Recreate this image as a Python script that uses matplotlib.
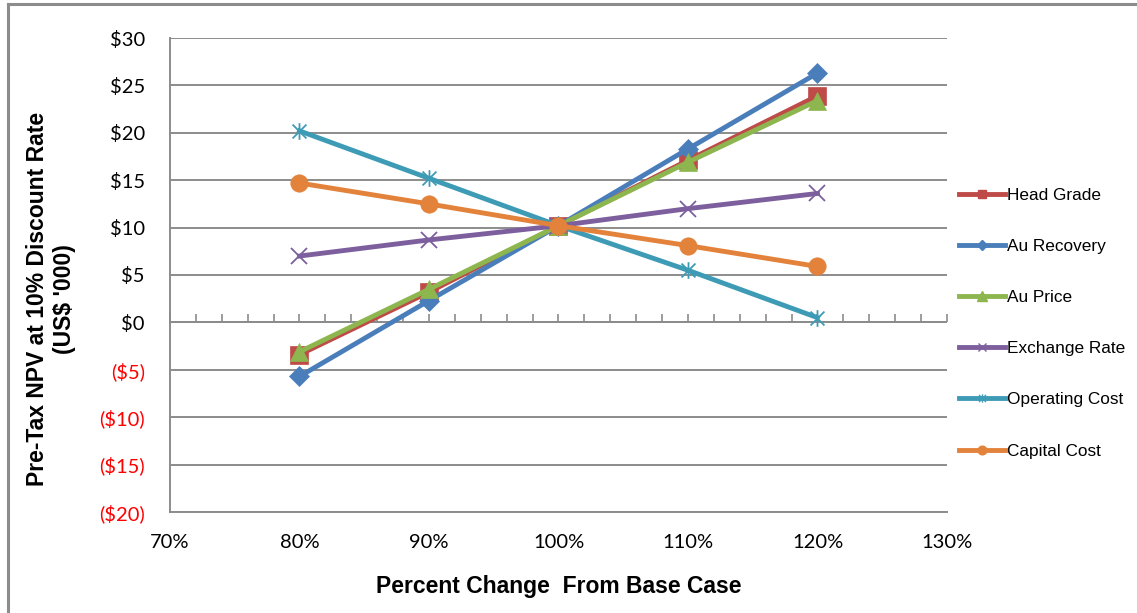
import matplotlib.pyplot as plt
from matplotlib.lines import Line2D
from matplotlib.path import Path
from matplotlib.ticker import MultipleLocator, FuncFormatter

# Percent change from base case
pct = [80, 90, 100, 110, 120]

# Pre-tax NPV at 10% (US$ '000) for each sensitivity
head_grade = [-3.4, 3.2, 10.2, 17.1, 23.9]
au_recovery = [-5.7, 2.3, 10.2, 18.3, 26.3]
au_price = [-3.1, 3.5, 10.2, 16.9, 23.4]
exchange_rate = [7.0, 8.7, 10.2, 12.0, 13.6]
operating_cost = [20.2, 15.2, 10.2, 5.5, 0.5]
capital_cost = [14.7, 12.5, 10.2, 8.1, 5.9]

names = ["Head Grade", "Au Recovery", "Au Price", "Exchange Rate",
         "Operating Cost", "Capital Cost"]

tick_font = "Lato"
lbl_font = "Liberation Sans"

# excel style asterisk: an x with a vertical bar through it
star = Path([(-1, -1), (1, 1), (-1, 1), (1, -1), (0, -1.2), (0, 1.2)],
            [Path.MOVETO, Path.LINETO, Path.MOVETO, Path.LINETO,
             Path.MOVETO, Path.LINETO])

fig = plt.figure(figsize=(11.37, 6.13), dpi=100)
ax = fig.add_axes([170 / 1137, 1 - 512 / 613, 777 / 1137, 474 / 613])

# (values, colour, marker, markersize, filled)
styles = [
    (head_grade, "#BE4B48", "s", 12.5, True),
    (au_recovery, "#4A7EBB", "D", 10, True),
    (au_price, "#8DB64F", "^", 13.5, True),
    (exchange_rate, "#7D5F9E", "x", 12, False),
    (operating_cost, "#3E9BB5", star, 12, False),
    (capital_cost, "#E3823B", "o", 12.5, True),
]

handles = []
for (vals, col, mk, ms, filled), name in zip(styles, names):
    ax.plot(pct, vals, color=col, lw=3.5, marker=mk, markersize=ms,
            markeredgewidth=1.3 if not filled else 0.5,
            markerfacecolor=col, markeredgecolor=col, zorder=3)
    handles.append(Line2D([], [], color=col, lw=3.5, marker=mk,
                          markersize=ms * 0.5, markerfacecolor=col,
                          markeredgecolor=col, label=name))

ax.set_xlim(70, 130)
ax.set_ylim(-20, 30)

# gridlines
ax.yaxis.set_major_locator(MultipleLocator(5))
ax.grid(axis="y", color="#8C8C8C", lw=1.4)
ax.set_axisbelow(True)

for s in ["top", "right"]:
    ax.spines[s].set_visible(False)
for s in ["left", "bottom"]:
    ax.spines[s].set_color("#8C8C8C")
    ax.spines[s].set_linewidth(1.4)

ax.xaxis.set_major_locator(MultipleLocator(10))
ax.xaxis.set_major_formatter(FuncFormatter(lambda v, p: f"{v:.0f}%"))
ax.tick_params(axis="x", length=0, pad=16, labelsize=14.5)
ax.tick_params(axis="y", length=0, pad=18, labelsize=14.5)


def money(v, p):
    if v < 0:
        return f"(${-v:.0f})"
    return f"${v:.0f}"


ax.yaxis.set_major_formatter(FuncFormatter(money))
for lab in ax.get_xticklabels():
    lab.set_fontfamily(tick_font)
for lab in ax.get_yticklabels():
    lab.set_fontfamily(tick_font)
fig.canvas.draw()
for lab in ax.get_yticklabels():
    if lab.get_text().startswith("("):
        lab.set_color("#FF0000")

# zero axis with minor ticks pointing up
ax.axhline(0, color="#8C8C8C", lw=1.4, zorder=1)
sec = ax.secondary_xaxis(0.4)
sec.xaxis.set_major_locator(MultipleLocator(2))
sec.tick_params(direction="in", length=6, width=1.2, color="#8C8C8C",
                labelbottom=False)
sec.spines["bottom"].set_visible(False)

ax.set_xlabel("Percent Change  From Base Case", fontfamily=lbl_font,
              fontweight="bold", fontsize=16.5, labelpad=17)
fig.text(38 / 1137, 1 - 299 / 613, "Pre-Tax NPV at 10% Discount Rate",
         rotation=90, ha="center", va="center", fontfamily=lbl_font,
         fontweight="bold", fontsize=16.5)
fig.text(64 / 1137, 1 - 299 / 613, "(US$ '000)",
         rotation=90, ha="center", va="center", fontfamily=lbl_font,
         fontweight="bold", fontsize=16.5)

leg = fig.legend(handles=handles, loc="upper left",
                 bbox_to_anchor=(943 / 1137, 1 - 172 / 613),
                 frameon=False, handlelength=2.7, handletextpad=0.1,
                 labelspacing=2.1, prop={"family": lbl_font, "size": 12.4})

# outer frame (top and left edges visible)
fig.add_artist(Line2D([8 / 1137, 1], [1 - 4 / 613, 1 - 4 / 613],
                      color="#8C8C8C", lw=2.2, transform=fig.transFigure))
fig.add_artist(Line2D([8 / 1137, 8 / 1137], [0, 1 - 4 / 613],
                      color="#8C8C8C", lw=2.2, transform=fig.transFigure))

fig.savefig("out.png", dpi=100)
